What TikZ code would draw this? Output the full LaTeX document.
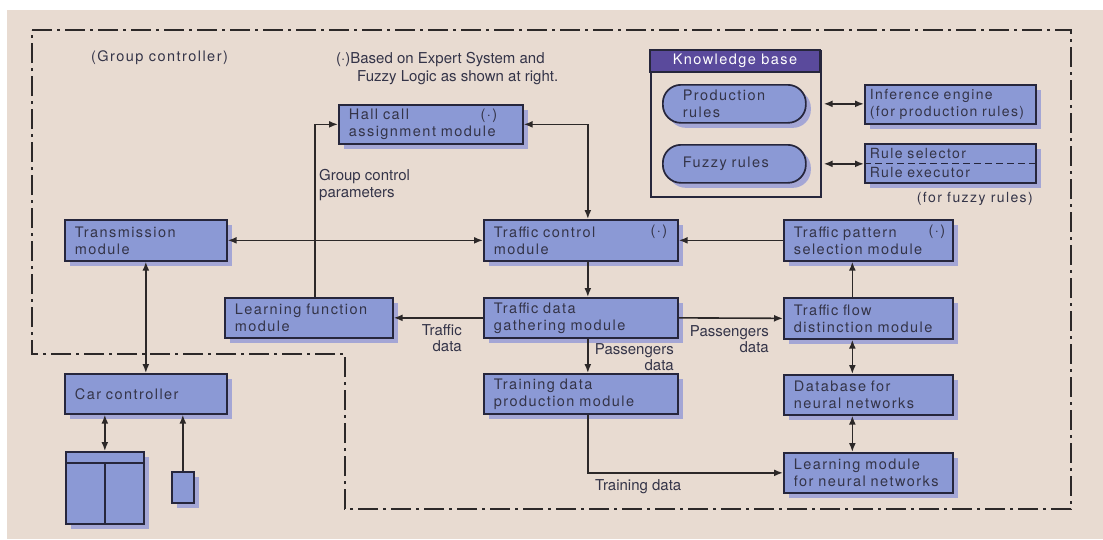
\documentclass[tikz,border=0pt]{standalone}
\usepackage{fontspec}
\setmainfont{TeX Gyre Heros}
\newfontfamily\boxfont[LetterSpace=10]{TeX Gyre Heros}
\usepackage{xcolor}
\usepackage{tikz}
\usetikzlibrary{arrows.meta, shadows}

\definecolor{paper}{RGB}{232,219,209}
\definecolor{boxblue}{RGB}{139,153,213}
\definecolor{shadowblue}{RGB}{164,166,213}
\definecolor{boxline}{RGB}{38,38,60}
\definecolor{kbpurple}{RGB}{90,74,156}
\definecolor{inkgray}{RGB}{52,52,72}
\definecolor{wire}{RGB}{44,40,40}

\tikzset{
  modbox/.style={draw=boxline, line width=1.7pt, fill=boxblue, text=inkgray,
    anchor=north west, align=left, inner xsep=10pt, inner ysep=0pt,
    font=\boxfont\fontsize{14.5}{17}\selectfont,
    drop shadow={shadow xshift=5pt, shadow yshift=-5pt, fill=shadowblue, opacity=1}},
  rulebox/.style={modbox, rounded corners=18pt, inner xsep=20pt},
  lbl/.style={text=inkgray, font=\fontsize{15}{16.5}\selectfont, inner sep=0pt},
  boxlbl/.style={text=inkgray, font=\boxfont\fontsize{14.5}{17}\selectfont, inner sep=0pt},
  wire/.style={draw=wire, line width=1.6pt},
  arr/.style={wire, -{Latex[length=9pt,width=7pt]}},
  dbl/.style={wire, {Latex[length=9pt,width=7pt]}-{Latex[length=9pt,width=7pt]}},
  groupline/.style={draw=wire, line width=2.3pt, dash pattern=on 20pt off 5pt on 3pt off 5pt}
}

\begin{document}
\begin{tikzpicture}[x=1pt, y=-1pt]
  \useasboundingbox (0,0) rectangle (1103,539);
  \fill[paper] (7,10) rectangle (1103,539);

  % group controller boundary
  \draw[groupline] (32,30) -- (1071,30) -- (1071,509) -- (345,509)
    -- (345,354) -- (32,354) -- cycle;
  \node[boxlbl, anchor=west] (gc) at (91,58) {(Group controller)};
  \node[lbl, anchor=west, align=left, font=\fontsize{15}{18}\selectfont] (note) at (336,69)
    {(·)Based on Expert System and\\\hspace*{21pt}Fuzzy Logic as shown at right.};

  % modules
  \foreach \n/\x/\y/\w/\h/\t in {
    tm/64/219/162/41/{Transmission\\module},
    hc/338/104/184/39/{Hall call\\assignment module},
    tc/483/219/194/41/{Traffic control\\module},
    tp/783/219/169/41/{Traffic pattern\\selection module},
    lf/224/297/168/40/{Learning function\\module},
    tg/483/297/194/40/{Traffic data\\gathering module},
    tf/783/297/169/41/{Traffic flow\\distinction~module},
    cc/64/373/162/40/{Car controller},
    td/483/373/194/40/{Training data\\production module},
    db/783/374/169/40/{Database for\\neural networks},
    lm/783/452/169/40/{Learning module\\for~neural~networks}
  }{
    \pgfmathsetmacro{\tw}{\w-20}
    \node[modbox, minimum width=\w pt, minimum height=\h pt, text width=\tw pt] (\n) at (\x,\y) {\t};
  }
  \node[boxlbl] (hcm) at (489,116) {(·)};
  \node[boxlbl] (tcm) at (659,232) {(·)};
  \node[boxlbl] (tpm) at (937,232) {(·)};

  % knowledge base
  \node[draw=boxline, line width=1.7pt, minimum width=170pt, minimum height=146pt,
    anchor=north west, inner sep=0pt] (kb) at (650,50) {};
  \node[draw=boxline, line width=1.7pt, fill=kbpurple, text=white, minimum width=170pt,
    minimum height=22pt, anchor=north west, inner sep=0pt, outer sep=0pt,
    font=\boxfont\fontsize{14.5}{17}\selectfont] (kbh) at (650,50) {Knowledge base};
  \node[rulebox, minimum width=143pt, minimum height=38pt, text width=103pt] (pr) at (662,84) {Production\\rules};
  \node[rulebox, minimum width=143pt, minimum height=38pt, text width=103pt] (fr) at (662,144) {Fuzzy rules};
  \node[modbox, inner xsep=5pt, minimum width=171pt, minimum height=39pt, text width=161pt,
    font=\boxfont\fontsize{14}{17}\selectfont] (ie) at (864,84)
    {Inference~engine\\(for~production~rules)};
  \node[modbox, inner xsep=5pt, minimum width=171pt, minimum height=39pt, text width=161pt,
    font=\boxfont\fontsize{14}{19}\selectfont] (rs) at (864,143) {Rule selector\\Rule executor};
  \draw[boxline, line width=1.5pt, dash pattern=on 7pt off 4pt] (rs.west) -- (rs.east);
  \node[boxlbl, anchor=east, font=\boxfont\fontsize{14}{17}\selectfont] (ffr) at (1033,199) {(for fuzzy rules)};
  \draw[dbl] ([xshift=2pt]kb.east |- pr.east) -- (ie.west |- pr.east);
  \draw[dbl] ([xshift=2pt]kb.east |- fr.east) -- (rs.west |- fr.east);

  % car side
  \node[modbox, minimum width=78pt, minimum height=72pt] (cab) at (65,451) {};
  \draw[boxline, line width=1.7pt] ([yshift=-12pt]cab.north west) -- ([yshift=-12pt]cab.north east);
  \draw[boxline, line width=1.7pt] ([yshift=-12pt]cab.north) -- (cab.south);
  \node[modbox, minimum width=22pt, minimum height=31pt, inner xsep=0pt] (sb) at (171,471) {};

  % connections
  \draw[arr] ([xshift=6pt]lf.north) |- (hc.west);
  \draw[dbl] (hc.east) -| ([xshift=7pt]tc.north);
  \draw[dbl] (tm.east) -- (tc.west);
  \draw[arr] (tp.west) -- (tc.east);
  \draw[arr] ([xshift=7pt]tc.south) -- ([xshift=7pt]tg.north);
  \draw[arr] (tg.west) -- (lf.east);
  \draw[arr] (tg.east) -- (tf.west);
  \draw[arr] ([xshift=7pt]tg.south) -- ([xshift=7pt]td.north);
  \draw[arr] ([xshift=-16pt]tf.north) -- ([xshift=-16pt]tp.south);
  \draw[dbl] ([xshift=-16pt]tf.south) -- ([xshift=-16pt]db.north);
  \draw[dbl] ([xshift=-16pt]db.south) -- ([xshift=-16pt]lm.north);
  \draw[arr] ([xshift=7pt]td.south) |- (lm.west);
  \draw[dbl] (tm.south) -- (cc.north);
  \draw[dbl] (cab.north) -- (cab.north |- cc.south);
  \draw[arr] (sb.north) -- (sb.north |- cc.south);

  % connector labels
  \node[lbl, anchor=west, align=left] (gcp) at (319,185) {Group control\\parameters};
  \node[lbl, anchor=east, align=right] (trf) at (462,338) {Traffic\\data};
  \node[lbl, anchor=east, align=right] (psr) at (769,339) {Passengers\\data};
  \node[lbl, anchor=east, align=right] (psd) at (674,357) {Passengers\\data};
  \node[lbl, anchor=west] (trn) at (595,487) {Training data};
\end{tikzpicture}
\end{document}
